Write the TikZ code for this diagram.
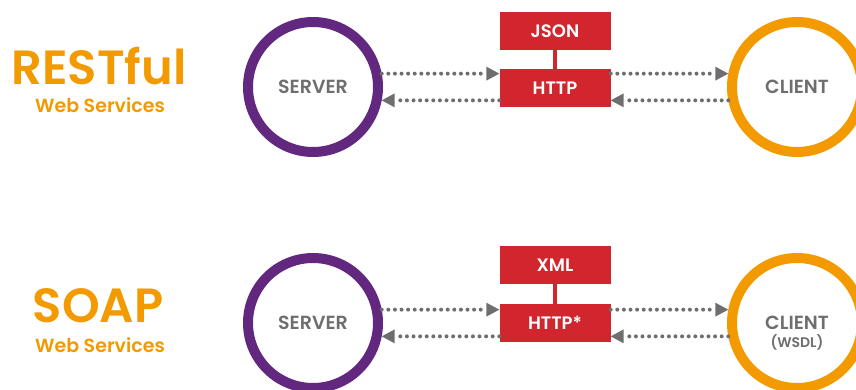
\documentclass[tikz,border=0pt]{standalone}
\usepackage{fontspec}
\setmainfont{Poppins}[BoldFont={Poppins SemiBold}]
\usetikzlibrary{arrows.meta,positioning}

\definecolor{wsorange}{HTML}{F39A00}
\definecolor{wspurple}{HTML}{62287F}
\definecolor{wsred}{HTML}{D1262E}
\definecolor{wsgray}{HTML}{6E6E6E}

\begin{document}
\begin{tikzpicture}[x=1pt,y=-1pt,
    peer/.style={circle,line width=10pt,minimum size=130pt,inner sep=0pt,
      text=wsgray,font=\bfseries\fontsize{19}{22}\selectfont},
    msg/.style={fill=wsred,text=white,minimum width=111pt,minimum height=38pt,
      inner sep=0pt,font=\bfseries\fontsize{18}{20}\selectfont},
    link/.style={draw=wsred,line width=4pt},
    flow/.style={draw=wsgray,line width=4pt,line cap=round,
      dash pattern=on 0pt off 6.6pt,
      -{Triangle[length=13pt,width=14pt,line width=0pt]}},
    title/.style={anchor=base,inner sep=0pt,text=wsorange,
      font=\bfseries\fontsize{48}{52}\selectfont},
    subtitle/.style={anchor=base,inner sep=0pt,text=wsorange,
      font=\bfseries\fontsize{19}{22}\selectfont}]
    \useasboundingbox (0,0) rectangle (856,390);
    \clip (0,0) rectangle (856,390);

    % REST row
    \node[title]    (rest)    at (99,85)   {RESTful};
    \node[subtitle] (restsub) at (100,113) {Web Services};
    \node[peer, draw=wspurple] (srv1)  at (313,87)  {SERVER};
    \node[peer, draw=wsorange] (cli1)  at (797,87)  {CLIENT};
    \node[msg]                 (http1) at (555,88)  {HTTP};
    \node[msg]                 (json)  at (555,31)  {JSON};
    \draw[link] (json) -- (http1);

    \path
    (srv1.11)  edge[flow] (srv1.11 -| http1.west)
    (http1.east |- cli1.169) edge[flow] (cli1.169)
    (cli1.191) edge[flow] (http1.east |- cli1.191)
    (http1.west |- srv1.-11) edge[flow] (srv1.-11)
    ;

    % SOAP row
    \node[title]    (soap)    at (98,322)  {SOAP};
    \node[subtitle] (soapsub) at (100,352) {Web Services};
    \node[peer, draw=wspurple] (srv2)  at (313,323) {SERVER};
    \node[peer, draw=wsorange] (cli2)  at (797,323) {CLIENT};
    \node[text=wsgray, font=\bfseries\fontsize{14}{16}\selectfont]
      (wsdl) at ([yshift=-19pt]cli2.center) {(WSDL)};
    \node[msg]                 (http2) at (555,323) {HTTP*};
    \node[msg]                 (xml)   at (555,265) {XML};
    \draw[link] (xml) -- (http2);

    \path
    (srv2.11)  edge[flow] (srv2.11 -| http2.west)
    (http2.east |- cli2.169) edge[flow] (cli2.169)
    (cli2.191) edge[flow] (http2.east |- cli2.191)
    (http2.west |- srv2.-11) edge[flow] (srv2.-11)
    ;
\end{tikzpicture}
\end{document}
